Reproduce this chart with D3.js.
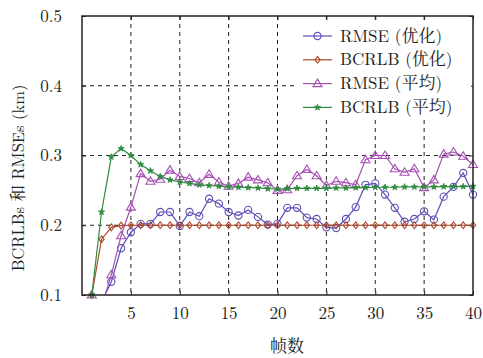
<!DOCTYPE html>
<html><head><meta charset="utf-8">
<script src="https://cdn.jsdelivr.net/npm/d3@7"></script>
<style>body{margin:0;background:#fff}svg{display:block}</style>
</head><body>
<svg id="c" width="483" height="358"></svg>
<script>
const frames = d3.range(1, 41);
const rmseOpt = [0.095,0.09,0.119,0.167,0.19,0.202,0.202,0.219,0.219,0.199,0.219,0.213,0.238,0.231,0.219,0.214,0.222,0.212,0.201,0.202,0.225,0.225,0.211,0.209,0.197,0.196,0.209,0.226,0.258,0.26,0.244,0.225,0.205,0.209,0.22,0.208,0.241,0.255,0.275,0.244];
const bcrlbOpt = [0.1,0.18,0.197,0.1995,0.2,0.2,0.2,0.2,0.2,0.2,0.2,0.2,0.2,0.2,0.2,0.2,0.2,0.2,0.2,0.2,0.2,0.2,0.2,0.2,0.2,0.2,0.2,0.2,0.2,0.2,0.2,0.2,0.2,0.2,0.2,0.2,0.2,0.2,0.2,0.2];
const rmseAvg = [0.1,0.083,0.129,0.185,0.226,0.274,0.263,0.266,0.279,0.27,0.267,0.261,0.273,0.262,0.256,0.26,0.269,0.265,0.261,0.25,0.251,0.271,0.28,0.271,0.257,0.263,0.261,0.258,0.294,0.3,0.3,0.281,0.276,0.281,0.254,0.265,0.302,0.305,0.299,0.287];
const bcrlbAvg = [0.1,0.219,0.298,0.31,0.3,0.287,0.278,0.27,0.265,0.262,0.26,0.258,0.257,0.256,0.255,0.2545,0.254,0.2535,0.2525,0.252,0.2525,0.253,0.253,0.253,0.253,0.2535,0.2535,0.254,0.254,0.2545,0.2545,0.2545,0.255,0.255,0.255,0.255,0.2555,0.2555,0.2555,0.256];
const seriesNames = ["RMSE (优化)","BCRLB (优化)","RMSE (平均)","BCRLB (平均)"];
const seriesColors = ["#5a4fb6","#b0472c","#a650b3","#2f8a3e"];
const seriesMarkers = ["circle","diamond","triangle","star"];
const xTicks = [5,10,15,20,25,30,35,40];
const yTicks = [0.1,0.2,0.3,0.4,0.5];
const xLabel = "帧数";
const yLabel = "BCRLBs 和 RMSEs (km)";

const allSeries = [rmseOpt,bcrlbOpt,rmseAvg,bcrlbAvg];
const svg = d3.select("#c");
const L=82,R=473,T=16,B=295;
const x = d3.scaleLinear().domain([0,40]).range([L,R]);
const y = d3.scaleLinear().domain([0.1,0.5]).range([B,T]);
const font = '"Latin Modern Roman", "Noto Serif CJK SC", serif';

svg.append("clipPath").attr("id","clip").append("rect").attr("x",L).attr("y",T).attr("width",R-L).attr("height",B-T);

// grid
svg.append("g").selectAll("line").data(xTicks.filter(t=>t<40)).join("line")
  .attr("x1",d=>x(d)).attr("x2",d=>x(d)).attr("y1",T).attr("y2",B)
  .attr("stroke","#222").attr("stroke-width",1).attr("stroke-dasharray","4,4");
svg.append("g").selectAll("line").data(yTicks.filter(t=>t>0.1&&t<0.5)).join("line")
  .attr("y1",d=>y(d)).attr("y2",d=>y(d)).attr("x1",L).attr("x2",R)
  .attr("stroke","#222").attr("stroke-width",1).attr("stroke-dasharray","4,4");

// axes
const ax = svg.append("g").attr("transform",`translate(0,${B})`).call(d3.axisBottom(x).tickValues(xTicks).tickSizeInner(-4).tickSizeOuter(0).tickPadding(12).tickFormat(d3.format("d")));
const axT = svg.append("g").attr("transform",`translate(0,${T})`).call(d3.axisTop(x).tickValues(xTicks).tickSizeInner(-4).tickSizeOuter(0).tickFormat(""));
const ay = svg.append("g").attr("transform",`translate(${L},0)`).call(d3.axisLeft(y).tickValues(yTicks).tickSizeInner(-4).tickSizeOuter(0).tickPadding(20).tickFormat(d3.format(".1f")));
const ayR = svg.append("g").attr("transform",`translate(${R},0)`).call(d3.axisRight(y).tickValues(yTicks).tickSizeInner(-4).tickSizeOuter(0).tickFormat(""));
[ax,axT,ay,ayR].forEach(g=>{g.select(".domain").remove();g.selectAll("line").attr("stroke","#222");g.selectAll("text").style("font-family",font).attr("font-size",17).attr("fill","#222");});

function marker(g, type, color, cx, cy){
  if(type==="circle") g.append("circle").attr("cx",cx).attr("cy",cy).attr("r",3.6).attr("fill","none").attr("stroke",color).attr("stroke-width",1.1);
  else if(type==="diamond") g.append("path").attr("d",`M${cx},${cy-3.4}L${cx+2.6},${cy}L${cx},${cy+3.4}L${cx-2.6},${cy}Z`).attr("fill","none").attr("stroke",color).attr("stroke-width",1.1);
  else if(type==="triangle") g.append("path").attr("d",`M${cx},${cy-4.5}L${cx+4.5},${cy+3}L${cx-4.5},${cy+3}Z`).attr("fill","none").attr("stroke",color).attr("stroke-width",1.1);
  else g.append("path").attr("d",d3.symbol(d3.symbolStar,12)()).attr("transform",`translate(${cx},${cy})`).attr("fill",color).attr("stroke",color).attr("stroke-width",0.8);
}

allSeries.forEach((vals,i)=>{
  const g = svg.append("g");
  const line = d3.line().x((d,j)=>x(frames[j])).y(d=>y(d));
  g.append("path").datum(vals).attr("d",line).attr("fill","none").attr("stroke",seriesColors[i]).attr("stroke-width",1.2).attr("clip-path","url(#clip)");
  vals.forEach((v,j)=>{ if(v>=0.1) marker(g, seriesMarkers[i], seriesColors[i], x(frames[j]), y(v)); });
});

// frame
svg.append("rect").attr("x",L).attr("y",T).attr("width",R-L).attr("height",B-T).attr("fill","none").attr("stroke","#222").attr("stroke-width",1.5);

// legend
const lg = svg.append("g");
lg.append("rect").attr("x",294).attr("y",24).attr("width",177).attr("height",94).attr("fill","#fff");
seriesNames.forEach((n,i)=>{
  const cy = 36 + i*23.8;
  lg.append("line").attr("x1",303).attr("x2",332).attr("y1",cy).attr("y2",cy).attr("stroke",seriesColors[i]).attr("stroke-width",1.2);
  marker(lg, seriesMarkers[i], seriesColors[i], 317.5, cy);
  lg.append("text").attr("x",340).attr("y",cy+5.5).style("font-family",font).attr("font-size",17).attr("fill","#222").text(n);
});

svg.append("text").attr("x",287).attr("y",352).attr("text-anchor","middle").style("font-family",font).attr("font-size",17).attr("fill","#222").text(xLabel);
svg.append("text").attr("transform","translate(24,178) rotate(-90)").attr("text-anchor","middle").style("font-family",font).attr("font-size",16.5).attr("fill","#222").text(yLabel);
</script>
</body></html>
